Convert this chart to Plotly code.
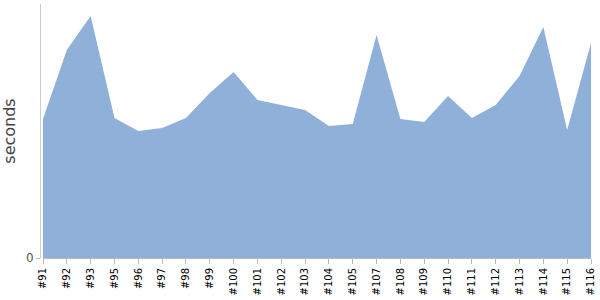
import plotly.graph_objects as go

builds = ["#91", "#92", "#93", "#95", "#96", "#97", "#98", "#99", "#100", "#101",
          "#102", "#103", "#104", "#105", "#107", "#108", "#109", "#110", "#111",
          "#112", "#113", "#114", "#115", "#116"]
seconds = [139, 208, 242, 140, 127, 130, 140, 165, 186, 158,
           153, 148, 132, 134, 223, 139, 136, 162, 140,
           153, 182, 231, 128, 215]

fig = go.Figure()
fig.add_trace(go.Scatter(
    x=list(range(len(builds))), y=seconds, mode="none",
    fill="tozeroy", fillcolor="#8fb1d9", hoverinfo="skip",
))

fig.update_layout(
    width=600, height=300,
    margin=dict(l=40, r=9, t=4, b=37),
    paper_bgcolor="white", plot_bgcolor="white",
    showlegend=False,
    font=dict(family="DejaVu Sans", size=11, color="#000"),
    xaxis=dict(
        domain=[3/551, 1], range=[0, len(builds) - 1],
        tickmode="array", tickvals=list(range(len(builds))), ticktext=builds,
        tickangle=-90, ticks="outside", ticklen=5, tickcolor="#bbb",
        showline=True, linecolor="#bbb", linewidth=1,
        showgrid=False, zeroline=False,
        tickfont=dict(family="DejaVu Sans", size=10, color="#000"),
    ),
    yaxis=dict(
        domain=[5/259, 1], range=[0, 254], anchor="free", position=0,
        tickmode="array", tickvals=[0], ticktext=["0"],
        ticks="outside", ticklen=4, tickcolor="#bbb",
        showline=True, linecolor="#ccc", linewidth=1,
        showgrid=False, zeroline=False,
        tickfont=dict(family="DejaVu Sans", size=12, color="#555"),
        title=dict(text="seconds", standoff=7,
                   font=dict(family="DejaVu Sans", size=16, color="#444")),
    ),
)

fig.write_html("out.html")
